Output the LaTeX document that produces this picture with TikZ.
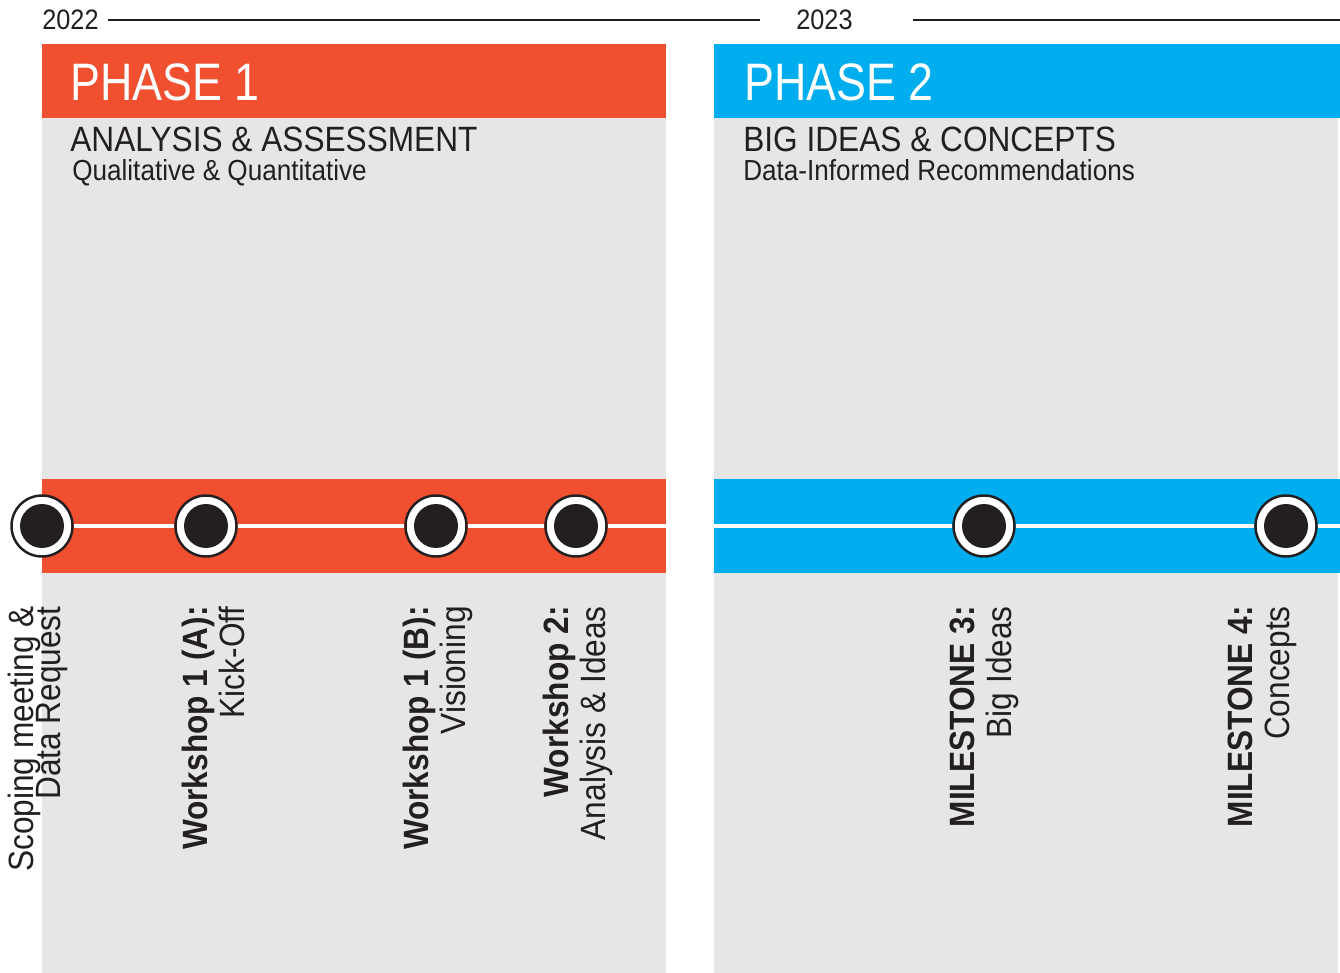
\documentclass[tikz,border=0pt]{standalone}
\usepackage{fontspec}
\setmainfont{Liberation Sans}[FakeStretch=0.9]
\newfontfamily\phasefont{Liberation Sans}[FakeStretch=0.85]

\begin{document}
\begin{tikzpicture}[x=0.02cm,y=-0.02cm,
  stopmark/.style={draw=dotblack, circle, fill=white, line width=1.4pt, minimum size=1.22cm, inner sep=0pt,
    path picture={\fill[dotblack] (path picture bounding box.center) circle (0.44cm);}},
  track/.style={draw=white, line width=2.8pt},
  yearline/.style={draw=dotblack, line width=1.3pt},
  stoptext/.style={rotate=90, anchor=north east, align=right, inner sep=0pt, text=dotblack,
    font=\fontsize{20}{21}\selectfont},
  heading/.style={anchor=base west, inner sep=0pt, text=dotblack}]
\definecolor{dotblack}{RGB}{35,31,32}
\definecolor{panelgray}{RGB}{230,230,230}
\definecolor{phaseorange}{RGB}{240,79,48}
\definecolor{phaseblue}{RGB}{0,174,239}

\useasboundingbox (0,0) rectangle (1340,973);

% panels
\fill[panelgray] (42,44) rectangle (666,973);
\fill[phaseorange] (42,44) rectangle (666,118);
\fill[phaseorange] (42,479) rectangle (666,573);
\fill[panelgray] (714,44) rectangle (1338,973);
\fill[phaseblue] (714,44) rectangle (1340,118);
\fill[phaseblue] (714,479) rectangle (1340,573);

% years
\node[anchor=west, inner sep=0pt, text=dotblack, font=\fontsize{16}{19}\selectfont] (y1) at (42,20) {2022};
\node[anchor=west, inner sep=0pt, text=dotblack, font=\fontsize{16}{19}\selectfont] (y2) at (796,20) {2023};
\coordinate (y1a) at (108,20);
\coordinate (y1b) at (760,20);
\coordinate (y2a) at (913,20);
\coordinate (y2b) at (1340,20);
\path[yearline] (y1a) -- (y1b);
\path[yearline] (y2a) -- (y2b);

% headings
\node[heading, text=white, font=\phasefont\fontsize{30}{36}\selectfont] (p1) at (70,101) {PHASE 1};
\node[heading, font=\fontsize{20}{24}\selectfont] (t1) at (70,152) {ANALYSIS \& ASSESSMENT};
\node[heading, font=\fontsize{16.5}{20}\selectfont] (s1) at (72,181) {Qualitative \& Quantitative};
\node[heading, text=white, font=\phasefont\fontsize{30}{36}\selectfont] (p2) at (744,101) {PHASE 2};
\node[heading, font=\fontsize{20}{24}\selectfont] (t2) at (743,152) {BIG IDEAS \& CONCEPTS};
\node[heading, font=\fontsize{16.5}{20}\selectfont] (s2) at (743,181) {Data-Informed Recommendations};

% milestones
\node[stopmark] (m1) at (42,526) {};
\node[stopmark] (m2) at (206,526) {};
\node[stopmark] (m3) at (436,526) {};
\node[stopmark] (m4) at (576,526) {};
\node[stopmark] (m5) at (984,526) {};
\node[stopmark] (m6) at (1286,526) {};
\coordinate (e1) at (666,526);
\coordinate (b2) at (714,526);
\coordinate (e2) at (1340,526);

\path[track] (m1) -- (m2);
\path[track] (m2) -- (m3);
\path[track] (m3) -- (m4);
\path[track] (m4) -- (e1);
\path[track] (b2) -- (m5);
\path[track] (m5) -- (m6);
\path[track] (m6) -- (e2);

% labels
\node[stoptext] (l1) at (8,606) {Scoping meeting \&\\[-6pt]Data Request};
\node[stoptext] (l2) at (182,606) {{\bfseries Workshop 1 (A):}\\Kick-Off};
\node[stoptext] (l3) at (403,606) {{\bfseries Workshop 1 (B):}\\Visioning};
\node[stoptext] (l4) at (543,606) {{\bfseries Workshop 2:}\\Analysis \& Ideas};
\node[stoptext] (l5) at (950,606) {{\bfseries MILESTONE 3:}\\Big Ideas};
\node[stoptext] (l6) at (1228,606) {{\bfseries MILESTONE 4:}\\Concepts};
\end{tikzpicture}
\end{document}
